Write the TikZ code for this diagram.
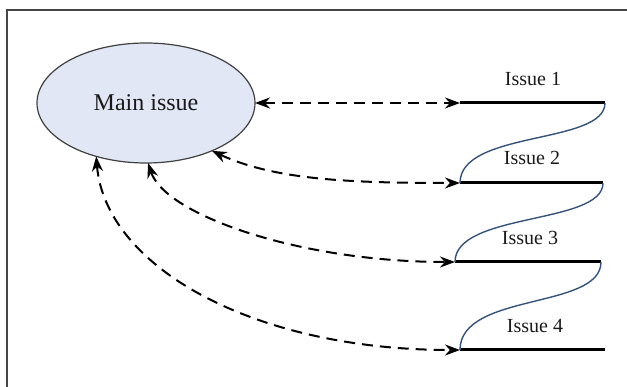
\documentclass[tikz,border=0pt]{standalone}
\usepackage{fontspec}
\setmainfont{Liberation Serif}
\usetikzlibrary{arrows.meta,shapes.geometric}
\definecolor{mainfill}{RGB}{226,231,245}
\definecolor{linkblue}{RGB}{52,82,122}
\definecolor{framegray}{RGB}{70,70,70}

\begin{document}
\begin{tikzpicture}[x=1pt,y=-1pt,
  link/.style={dashed,dash pattern=on 11pt off 7pt,line width=2pt,
    {Stealth[length=15pt,width=11pt]}-{Stealth[length=15pt,width=11pt]}},
  bar/.style={line width=3pt},
  swing/.style={linkblue,line width=1.4pt},
  issuelabel/.style={font=\fontsize{20}{24}\selectfont,text=black!90}]
\useasboundingbox (0,0) rectangle (627,387);

% frame
\draw[framegray,line width=2pt] (7,387) -- (7,10) -- (627,10);

% main issue
\node[ellipse,draw=black!75,line width=1.2pt,fill=mainfill,inner sep=0pt,outer sep=0pt,
  minimum width=218pt,minimum height=120pt,font=\fontsize{24}{28}\selectfont,text=black!90]
  (main) at (146,103) {Main issue};

% issue lines
\coordinate (s1) at (460,103); \coordinate (e1) at (605,103);
\coordinate (s2) at (460,183); \coordinate (e2) at (603,183);
\coordinate (s3) at (455,262); \coordinate (e3) at (601,262);
\coordinate (s4) at (460,350); \coordinate (e4) at (605,350);
\draw[bar] (s1) -- (e1);
\draw[bar] (s2) -- (e2);
\draw[bar] (s3) -- (e3);
\draw[bar] (s4) -- (e4);
\node[issuelabel] (i1) at (533,79) {Issue 1};
\node[issuelabel] (i2) at (532,158) {Issue 2};
\node[issuelabel] (i3) at (530,238) {Issue 3};
\node[issuelabel] (i4) at (535,326) {Issue 4};

% blue joins
\draw[swing] (e1) .. controls (605,145) and (460,130) .. (s2);
\draw[swing] (e2) .. controls (603,225) and (455,212) .. (s3);
\draw[swing] (e3) .. controls (601,310) and (460,292) .. (s4);

% dashed links
\draw[link] (main.0) -- (s1);
\draw[link] (main.-36) .. controls (275,180) and (350,183) .. (s2);
\draw[link] (main.-88) .. controls (165,215) and (300,262) .. (s3);
\draw[link] (main.-133) .. controls (105,265) and (250,350) .. (s4);
\end{tikzpicture}
\end{document}
